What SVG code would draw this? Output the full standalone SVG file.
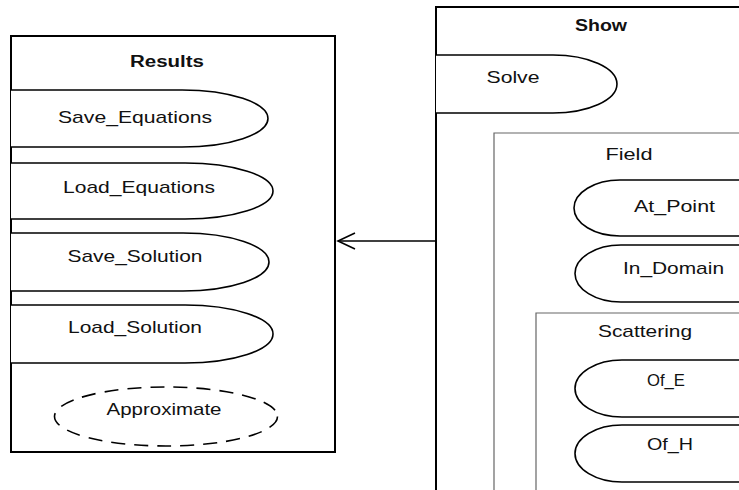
<svg xmlns="http://www.w3.org/2000/svg" width="739" height="490" viewBox="0 0 739 490">
<style>
.box{fill:none;stroke:#000;stroke-width:2}
.pkg{fill:none;stroke:#666;stroke-width:1.2}
.uc{fill:#fff;stroke:#000;stroke-width:1.6}
.dash{fill:none;stroke:#000;stroke-width:1.6;stroke-dasharray:14 9}
text{font-family:"Liberation Sans",Arial,sans-serif;font-size:17px;fill:#111;text-anchor:middle}
.t{font-weight:bold;font-size:16px}
.conn{fill:none;stroke:#000;stroke-width:1.6}
</style>
<rect width="739" height="490" fill="#fff"/>
<g id="Results">
<rect class="box" x="11" y="36" width="324" height="416"/>
<text class="t" x="167" y="67" textLength="74" lengthAdjust="spacingAndGlyphs">Results</text>
</g>
<g id="Save_Equations">
<path class="uc" d="M11,90 H182 A86,28.5 0 0 1 182,147 H11"/>
<text x="135" y="123" textLength="154" lengthAdjust="spacingAndGlyphs">Save_Equations</text>
</g>
<g id="Load_Equations">
<path class="uc" d="M11,163 H185 A88,28 0 0 1 185,219 H11"/>
<text x="139" y="193" textLength="152" lengthAdjust="spacingAndGlyphs">Load_Equations</text>
</g>
<g id="Save_Solution">
<path class="uc" d="M11,233 H183 A86,29 0 0 1 183,291 H11"/>
<text x="135" y="262" textLength="135" lengthAdjust="spacingAndGlyphs">Save_Solution</text>
</g>
<g id="Load_Solution">
<path class="uc" d="M11,305 H185 A88,29 0 0 1 185,363 H11"/>
<text x="135" y="333" textLength="134" lengthAdjust="spacingAndGlyphs">Load_Solution</text>
</g>
<g id="Approximate">
<ellipse class="dash" cx="166" cy="416.5" rx="111.5" ry="29.5"/>
<text x="164" y="415" textLength="115" lengthAdjust="spacingAndGlyphs">Approximate</text>
</g>
<g id="Show">
<path class="box" d="M745,7 H436 V495"/>
<text class="t" x="601" y="31" textLength="52" lengthAdjust="spacingAndGlyphs">Show</text>
</g>
<g id="Solve">
<path class="uc" d="M436,55 H553 A64,29 0 0 1 553,113 H436"/>
<text x="513" y="83" textLength="53" lengthAdjust="spacingAndGlyphs">Solve</text>
</g>
<g id="Field">
<path class="pkg" d="M745,133 H494 V495"/>
<text x="629" y="160" textLength="47" lengthAdjust="spacingAndGlyphs">Field</text>
</g>
<g id="At_Point">
<path class="uc" d="M745,180 H620 A46,28 0 0 0 620,236 H745"/>
<text x="674.5" y="212" textLength="81" lengthAdjust="spacingAndGlyphs">At_Point</text>
</g>
<g id="In_Domain">
<path class="uc" d="M745,245 H621 A46,28.5 0 0 0 621,302 H745"/>
<text x="673.5" y="274" textLength="101" lengthAdjust="spacingAndGlyphs">In_Domain</text>
</g>
<g id="Scattering">
<path class="pkg" d="M745,313 H536 V495"/>
<text x="645" y="337" textLength="94" lengthAdjust="spacingAndGlyphs">Scattering</text>
</g>
<g id="Of_E">
<path class="uc" d="M745,360 H622 A47,28.5 0 0 0 622,417 H745"/>
<text x="666" y="386" textLength="38" lengthAdjust="spacingAndGlyphs">Of_E</text>
</g>
<g id="Of_H">
<path class="uc" d="M745,425 H622 A47,28.5 0 0 0 622,482 H745"/>
<text x="670" y="450" textLength="46" lengthAdjust="spacingAndGlyphs">Of_H</text>
</g>
<g id="connectors">
<path class="conn" d="M436,241 H338"/>
<path class="conn" d="M355,233 L338,241 L355,249"/>
</g>
</svg>
